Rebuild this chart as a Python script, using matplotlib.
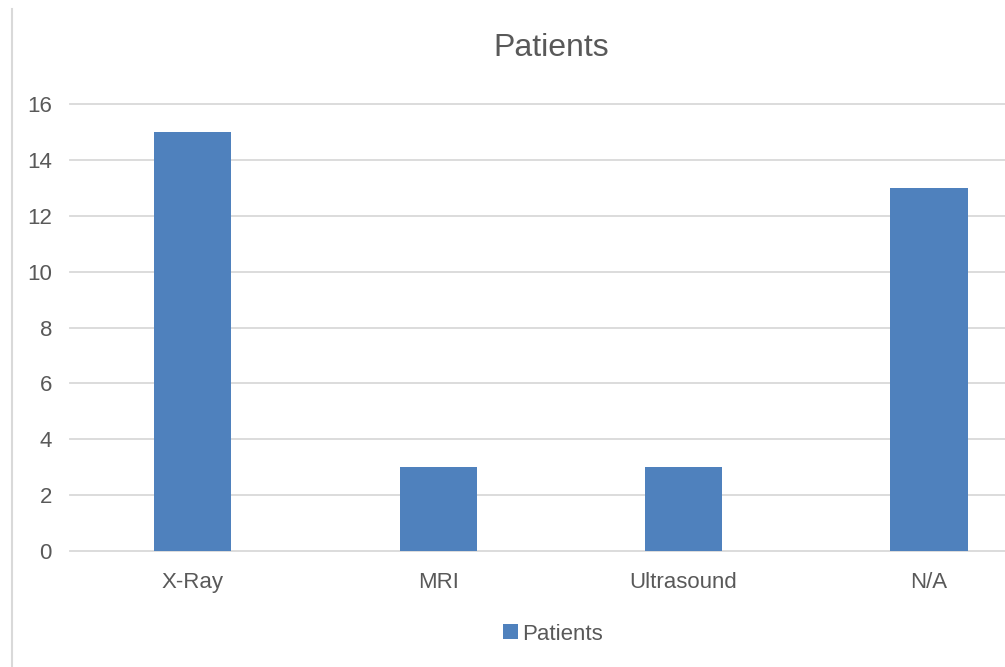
import matplotlib
matplotlib.use("Agg")
import matplotlib.pyplot as plt
from matplotlib.lines import Line2D
from matplotlib.patches import Patch

plt.rcParams['font.family'] = ['Liberation Sans', 'DejaVu Sans']

categories = ["X-Ray", "MRI", "Ultrasound", "N/A"]
patients = [15, 3, 3, 13]
y_ticks = [0, 2, 4, 6, 8, 10, 12, 14, 16]

bar_color = "#4F81BD"
text_color = "#595959"
grid_color = "#D9D9D9"

W, H = 1005, 667
fig = plt.figure(figsize=(W / 100, H / 100), dpi=100)
fig.patch.set_facecolor("white")

# plot area in pixel terms: left 70, top 104.3, bottom 550.7, runs off the right edge
ax = fig.add_axes([70 / W, 1 - 550.7 / H, 1 - 70 / W, (550.7 - 104.3) / H])

x = list(range(len(categories)))
ax.bar(x, patients, width=0.314, color=bar_color, zorder=3, label="Patients")

ax.set_xlim(-0.5, (W - 70.9) / 245.2 - 0.5)
ax.set_ylim(0, 16)
ax.set_yticks(y_ticks)
ax.set_yticklabels([str(t) for t in y_ticks])
ax.set_xticks(x)
ax.set_xticklabels(categories)

ax.yaxis.grid(True, color=grid_color, linewidth=1.3, zorder=0)
ax.xaxis.grid(False)
for s in ax.spines.values():
    s.set_visible(False)
ax.tick_params(axis='both', length=0, labelsize=16, labelcolor=text_color)
ax.tick_params(axis='y', pad=13)
ax.tick_params(axis='x', pad=15)
for gl in ax.yaxis.get_gridlines():
    gl.set_clip_on(False)

fig.text(551 / W, 1 - 48 / H, "Patients", ha='center', va='center',
         fontsize=23, color=text_color)

handle = Patch(facecolor=bar_color, edgecolor='none')
fig.legend([handle], ["Patients"], loc='center',
           bbox_to_anchor=(553 / W, 1 - 634 / H), frameon=False,
           fontsize=16, labelcolor=text_color, handlelength=0.65,
           handleheight=0.65, handletextpad=0.2)

# light frame line along the left edge of the chart area
fig.add_artist(Line2D([12 / W, 12 / W], [0, 1 - 9 / H], color=grid_color,
                      linewidth=1.5, transform=fig.transFigure))

fig.savefig("out.png", dpi=100, facecolor="white")
